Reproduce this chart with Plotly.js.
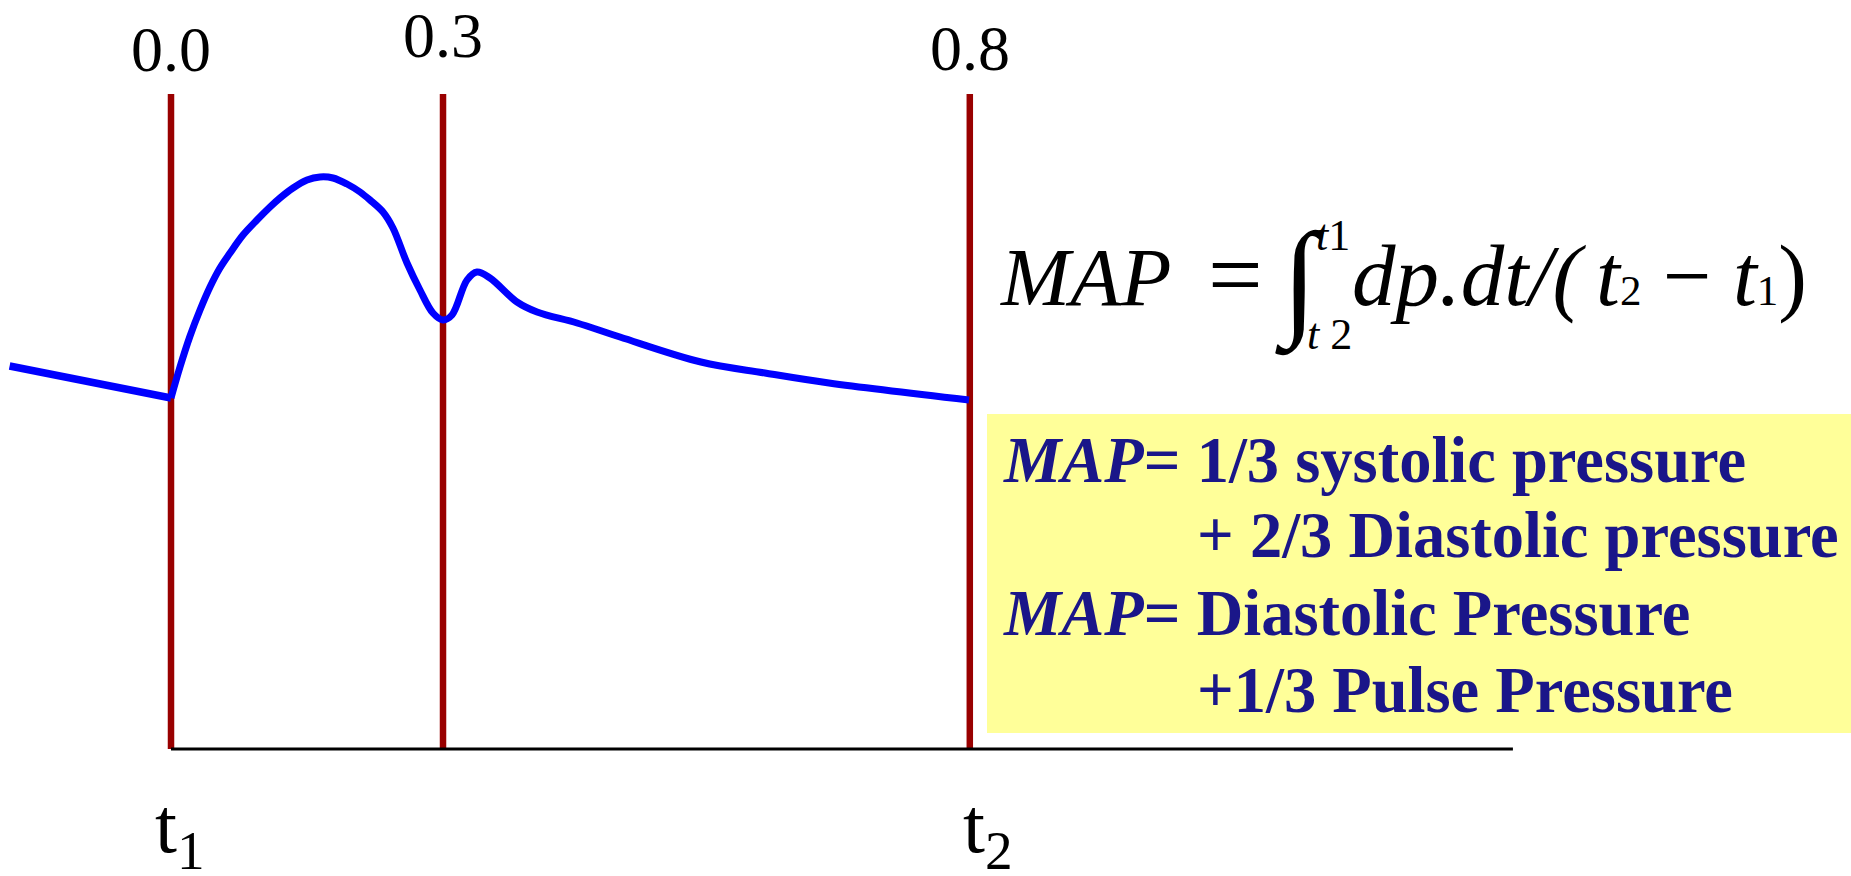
<!DOCTYPE html>
<html>
<head>
<meta charset="utf-8">
<script src="https://cdn.plot.ly/plotly-3.0.1.min.js"></script>
<style>html,body{margin:0;padding:0;background:#fff;}#chart{width:1851px;height:876px;}</style>
</head>
<body>
<div id="chart"></div>
<script>
// ---- data ----
const timeLabels = ["0.0", "0.3", "0.8"];
const markerTimes = [0, 0.3, 0.881];
const markerTop = 131;
const axisEnd = 1.48;
// pressure wave (arbitrary units), previous beat tail then the current beat
const tailX = [-0.178, 0];
const tailY = [76.6, 70.2];
const waveX = [0, 0.0099, 0.021, 0.032, 0.043, 0.054, 0.0651, 0.0794, 0.0948, 0.1092, 0.1202, 0.1346, 0.150, 0.1643, 0.1787, 0.1941, 0.2085, 0.2195, 0.2338, 0.2448, 0.2603, 0.2746, 0.2889, 0.300, 0.3099, 0.3265, 0.3375, 0.3518, 0.3816, 0.4037, 0.4478, 0.4952, 0.5845, 0.6551, 0.7257, 0.8801];
const waveY = [70.2, 76.4, 82.6, 87.8, 92.4, 96.2, 99.2, 102.8, 105.8, 108.4, 110.2, 112.2, 113.8, 114.4, 114.2, 113.0, 111.4, 109.8, 107.4, 104.2, 97.2, 91.8, 87.2, 85.8, 86.8, 93.8, 95.4, 94.2, 89.4, 87.4, 85.2, 82.4, 77.4, 75.2, 73.2, 69.8];
const boxLines = [
  "<i>MAP</i>= 1/3 systolic pressure",
  "+ 2/3 Diastolic pressure",
  "<i>MAP</i>= Diastolic Pressure",
  "+1/3 Pulse Pressure"
];

// ---- layout helpers ----
const W = 1851, H = 876;
const PX = x => x / W;
const PY = y => 1 - y / H;
const SERIF = "Liberation Serif, Times New Roman, serif";
const NAVY = "#1a1689";

const traces = [];
markerTimes.forEach(t => {
  traces.push({x: [t, t], y: [0, markerTop], mode: "lines", line: {color: "#990000", width: 6.5}, hoverinfo: "skip"});
});
traces.push({x: [0, axisEnd], y: [0, 0], mode: "lines", line: {color: "#000", width: 3}, hoverinfo: "skip"});
traces.push({x: tailX, y: tailY, mode: "lines", line: {color: "#0000ff", width: 7.5}, hoverinfo: "skip"});
traces.push({x: waveX, y: waveY, mode: "lines", line: {color: "#0000ff", width: 7, shape: "spline", smoothing: 1}, hoverinfo: "skip"});

const ann = [];
const labelY = [49, 36, 48];
timeLabels.forEach((lab, i) => {
  ann.push({x: markerTimes[i], xref: "x", y: PY(labelY[i]), yref: "paper", text: lab, showarrow: false, borderpad: 0,
    xanchor: "center", yanchor: "middle", font: {family: SERIF, size: 64, color: "#000"}});
});
ann.push({x: markerTimes[0], xref: "x", xshift: -17, y: PY(831), yref: "paper", text: "t<sub>1</sub>", showarrow: false, borderpad: 0,
  xanchor: "left", yanchor: "middle", font: {family: SERIF, size: 79, color: "#000"}});
ann.push({x: markerTimes[2], xref: "x", xshift: -8, y: PY(831), yref: "paper", text: "t<sub>2</sub>", showarrow: false, borderpad: 0,
  xanchor: "left", yanchor: "middle", font: {family: SERIF, size: 79, color: "#000"}});

// formula
const F = {family: SERIF, size: 83, color: "#000"};
ann.push({x: PX(998), y: PY(277), xref: "paper", yref: "paper", text: "<i>MAP</i>", showarrow: false, xanchor: "left", yanchor: "middle", font: F});
ann.push({x: PX(1235), y: PY(274), xref: "paper", yref: "paper", text: "=", showarrow: false, xanchor: "center", yanchor: "middle", font: {family: SERIF, size: 97, color: "#000"}});
ann.push({x: PX(1299), y: PY(282), xref: "paper", yref: "paper", text: "<b>∫</b>", showarrow: false, xanchor: "center", yanchor: "middle", font: {family: SERIF, size: 128, color: "#000"}});
ann.push({x: PX(1314), y: PY(235), xref: "paper", yref: "paper", text: "<i>t</i>1", showarrow: false, xanchor: "left", yanchor: "middle", font: {family: SERIF, size: 44, color: "#000"}});
ann.push({x: PX(1305), y: PY(334), xref: "paper", yref: "paper", text: "<i>t</i> 2", showarrow: false, xanchor: "left", yanchor: "middle", font: {family: SERIF, size: 44, color: "#000"}});
ann.push({x: PX(1350), y: PY(276), xref: "paper", yref: "paper", text: "<i>dp.dt/(</i>", showarrow: false, xanchor: "left", yanchor: "middle", font: {family: SERIF, size: 87, color: "#000"}});
ann.push({x: PX(1594), y: PY(276), xref: "paper", yref: "paper",
  text: "<i>t</i><span style='font-size:43px'>2</span> − <i>t</i><span style='font-size:43px'>1</span>)", showarrow: false, xanchor: "left", yanchor: "middle", font: {family: SERIF, size: 86, color: "#000"}});

// box text
const boxX = [1001, 1195, 1001, 1195];
const boxBase = [482, 557, 635, 712];
boxLines.forEach((txt, i) => {
  ann.push({x: PX(boxX[i]), y: PY(boxBase[i] - 22), xref: "paper", yref: "paper", text: "<b>" + txt + "</b>", showarrow: false,
    xanchor: "left", yanchor: "middle", font: {family: SERIF, size: 64.5, color: NAVY}});
});

const layout = {
  width: W, height: H,
  margin: {l: 0, r: 0, t: 0, b: 0},
  paper_bgcolor: "#fff", plot_bgcolor: "#fff",
  showlegend: false,
  xaxis: {range: [-171 / 906.7, (W - 171) / 906.7], visible: false, fixedrange: true},
  yaxis: {range: [(749 - H) / 5, 749 / 5], visible: false, fixedrange: true},
  shapes: [{type: "rect", xref: "paper", yref: "paper", x0: PX(987), x1: 1, y0: PY(733), y1: PY(414),
    fillcolor: "#ffff99", line: {width: 0}, layer: "below"}],
  annotations: ann
};

Plotly.newPlot("chart", traces, layout, {staticPlot: true, displayModeBar: false});
</script>
</body>
</html>
